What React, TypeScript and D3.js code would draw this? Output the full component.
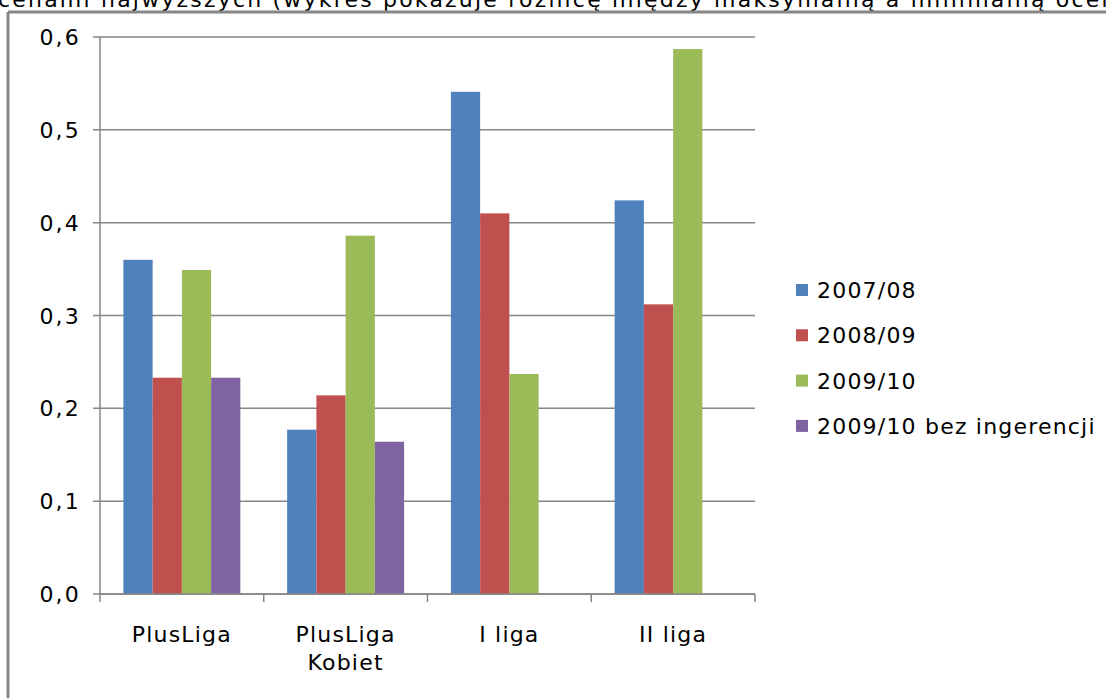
import * as d3 from 'd3';

const CATEGORIES = ['PlusLiga', 'PlusLiga\nKobiet', 'I liga', 'II liga'];
const SERIES = ['2007/08', '2008/09', '2009/10', '2009/10 bez ingerencji'];
const COLORS = ['#4F81BD', '#C0504D', '#9BBB59', '#8064A2'];
const VALUES_0708 = [0.36, 0.177, 0.541, 0.424];
const VALUES_0809 = [0.233, 0.214, 0.41, 0.312];
const VALUES_0910 = [0.349, 0.386, 0.237, 0.587];
const VALUES_NO_INTERF: (number | null)[] = [0.233, 0.164, null, null];
const Y_TICKS = [0, 0.1, 0.2, 0.3, 0.4, 0.5, 0.6];

const SERIES_VALUES = [VALUES_0708, VALUES_0809, VALUES_0910, VALUES_NO_INTERF];

const W = 1106;
const H = 698;
const FONT = 'Verdana, "DejaVu Sans", sans-serif';
const AXIS = '#868686';
const LS = 1.2;

export default function App() {
  const plot = { left: 100, right: 755, top: 37, bottom: 594 };

  const y = d3.scaleLinear().domain([0, 0.6]).range([plot.bottom, plot.top]);
  const x0 = d3.scaleBand<string>().domain(CATEGORIES).range([plot.left, plot.right]).padding(0);
  const bw = x0.bandwidth();
  const gap = bw / 5.6 * 0.8;
  const x1 = d3.scaleBand<string>().domain(SERIES).range([gap, bw - gap]).padding(0);
  const fmt = (v: number) => d3.format('.1f')(v).replace('.', ',');

  const boundaries = CATEGORIES.map((c) => x0(c)!).concat([plot.right]);

  return (
    <div style={{ position: 'fixed', left: 0, top: 0 }}>
      <svg width={W} height={H} style={{ display: 'block', background: '#fff' }} fontFamily={FONT}>
        <text x={-2} y={7} fontSize={22} letterSpacing={2.2} fill="#000">
          cenami najwyższych (wykres pokazuje różnicę między maksymalną a minimalną oceną)
        </text>
        {/* chart border */}
        <line x1={8} x2={W + 5} y1={12} y2={12} stroke={AXIS} strokeWidth={3} />
        <line x1={8} x2={8} y1={12} y2={H + 5} stroke={AXIS} strokeWidth={3} />

        {/* gridlines and y labels */}
        {Y_TICKS.map((t) => (
          <g key={t}>
            <line x1={plot.left - 7} x2={plot.right} y1={y(t)} y2={y(t)} stroke={AXIS} strokeWidth={1.5} />
            <text x={81} y={y(t) + 8} fontSize={22} letterSpacing={2.2} textAnchor="end" fill="#000">
              {fmt(t)}
            </text>
          </g>
        ))}

        {/* bars */}
        {CATEGORIES.map((c, ci) => (
          <g key={c} transform={`translate(${x0(c)},0)`}>
            {SERIES.map((s, si) => {
              const v = SERIES_VALUES[si][ci];
              if (v == null) return null;
              return (
                <rect
                  key={s}
                  x={x1(s)}
                  y={y(v)}
                  width={x1.bandwidth()}
                  height={y(0) - y(v)}
                  fill={COLORS[si]}
                />
              );
            })}
          </g>
        ))}

        {/* axes */}
        <line x1={plot.left} x2={plot.left} y1={plot.top} y2={plot.bottom} stroke={AXIS} strokeWidth={1.5} />
        <line x1={plot.left} x2={plot.right} y1={plot.bottom} y2={plot.bottom} stroke={AXIS} strokeWidth={1.5} />
        {boundaries.map((bx, i) => (
          <line key={i} x1={bx} x2={bx} y1={plot.bottom} y2={plot.bottom + 8} stroke={AXIS} strokeWidth={1.5} />
        ))}

        {/* category labels */}
        {CATEGORIES.map((c) => (
          <text key={c} x={x0(c)! + bw / 2} y={642} fontSize={22} letterSpacing={LS} textAnchor="middle" fill="#000">
            {c.split('\n').map((line, li) => (
              <tspan key={li} x={x0(c)! + bw / 2} dy={li === 0 ? 0 : 28}>
                {line}
              </tspan>
            ))}
          </text>
        ))}

        {/* legend */}
        {SERIES.map((s, si) => (
          <g key={s} transform={`translate(796,${290 + si * 45.3})`}>
            <rect x={0} y={-6} width={12} height={12} fill={COLORS[si]} />
            <text x={21} y={8} fontSize={22} letterSpacing={LS} fill="#000">
              {s}
            </text>
          </g>
        ))}
      </svg>
    </div>
  );
}
